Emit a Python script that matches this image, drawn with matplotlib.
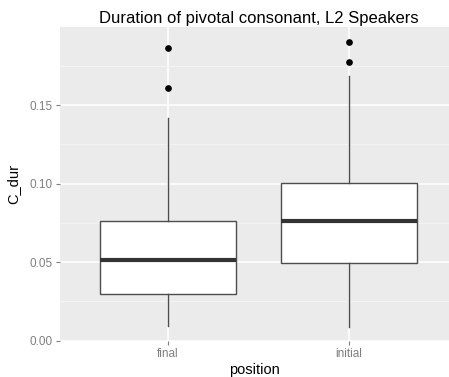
import matplotlib.pyplot as plt
import numpy as np

plt.rcParams['font.family'] = ['Liberation Sans', 'DejaVu Sans']

# summary statistics per position (seconds)
positions = ['final', 'initial']
whisker_low = [0.0095, 0.0087]
q1 = [0.0299, 0.0495]
median = [0.0516, 0.0764]
q3 = [0.0759, 0.1004]
whisker_high = [0.1421, 0.1689]
outliers = [[0.1609, 0.1863], [0.1772, 0.1900]]

stats = []
for i, name in enumerate(positions):
    stats.append(dict(label=name, whislo=whisker_low[i], q1=q1[i], med=median[i],
                      q3=q3[i], whishi=whisker_high[i], fliers=outliers[i]))

fig = plt.figure(figsize=(4.49, 3.77), dpi=100)
ax = fig.add_axes([60 / 449, 36 / 377, 389 / 449, 314.3 / 377])
ax.set_facecolor('#EBEBEB')

ax.bxp(stats, positions=[1, 2], widths=0.75, showcaps=False, patch_artist=True,
       boxprops=dict(facecolor='white', edgecolor='#4d4d4d', linewidth=1.0),
       medianprops=dict(color='#333333', linewidth=3.0, solid_capstyle='butt'),
       whiskerprops=dict(color='#4d4d4d', linewidth=1.0),
       flierprops=dict(marker='o', markerfacecolor='black', markeredgecolor='black',
                       markersize=3.8),
       zorder=3)

ax.set_xlim(0.403, 2.552)
ax.set_ylim(-0.0003, 0.2)

ax.set_yticks([0.0, 0.05, 0.10, 0.15])
ax.set_yticklabels(['0.00', '0.05', '0.10', '0.15'])
ax.set_yticks([0.025, 0.075, 0.125, 0.175], minor=True)
ax.set_xticks([1, 2])
ax.set_xticklabels(positions)

ax.grid(which='major', color='white', linewidth=1.1, zorder=0)
ax.grid(which='minor', axis='y', color='#F5F5F5', linewidth=0.6, zorder=0)
ax.set_axisbelow(True)

for s in ax.spines.values():
    s.set_visible(False)

ax.tick_params(axis='both', which='major', colors='#7f7f7f', labelcolor='#7f7f7f',
               labelsize=8.5, length=3, width=0.8, pad=2)
ax.tick_params(axis='y', which='minor', length=0)

ax.set_xlabel('position', fontsize=10.5, color='black', labelpad=2)
ax.set_ylabel('C_dur', fontsize=10.5, color='black', labelpad=7)
ax.set_title('Duration of pivotal consonant, L2 Speakers', fontsize=12.0, pad=3,
             x=0.51)

fig.savefig('out.png', dpi=100)
